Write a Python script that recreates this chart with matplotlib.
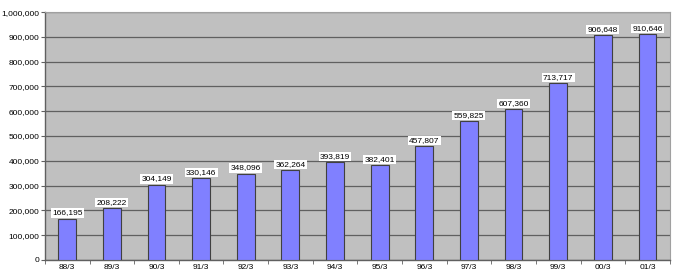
import matplotlib
matplotlib.use("Agg")
from matplotlib import pyplot as plt
from matplotlib.ticker import FuncFormatter, MultipleLocator
import numpy as np

plt.rcParams["font.family"] = ["Liberation Sans", "DejaVu Sans"]

periods = ["88/3", "89/3", "90/3", "91/3", "92/3", "93/3", "94/3",
           "95/3", "96/3", "97/3", "98/3", "99/3", "00/3", "01/3"]
values = [166195, 208222, 304149, 330146, 348096, 362264, 393819,
          382401, 457807, 559825, 607360, 713717, 906648, 910646]

fig = plt.figure(figsize=(6.8, 2.75), dpi=100)
ax = fig.add_axes([0.066, 0.055, 0.919, 0.901])
ax.set_facecolor("#c0c0c0")

x = np.arange(len(periods))
ax.bar(x, values, width=0.4, color="#8080ff", edgecolor="#404040", linewidth=0.8, zorder=3)

for xi, v in zip(x, values):
    ax.text(xi, v + 9000, f"{v:,}", ha="center", va="bottom", fontsize=6,
            bbox=dict(boxstyle="square,pad=0.15", fc="white", ec="none"), zorder=4)

ax.set_xlim(-0.5, len(periods) - 0.5)
ax.set_ylim(0, 1000000)
ax.yaxis.set_major_locator(MultipleLocator(100000))
ax.yaxis.set_major_formatter(FuncFormatter(lambda v, p: f"{int(v):,}"))
ax.grid(axis="y", color="#606060", linewidth=0.9, zorder=1)
ax.set_xticks(x)
ax.set_xticklabels(periods)
ax.set_xticks(np.arange(len(periods) + 1) - 0.5, minor=True)
ax.tick_params(axis="x", which="major", length=0, labelsize=6, pad=3)
ax.tick_params(axis="x", which="minor", length=3, color="#606060")
ax.tick_params(axis="y", length=3, labelsize=6, color="#606060", pad=1)

for s in ["top", "right"]:
    ax.spines[s].set_color("#a0a0a0")
for s in ["left", "bottom"]:
    ax.spines[s].set_color("#606060")
    ax.spines[s].set_linewidth(1.0)

fig.savefig("out.png", dpi=100)
